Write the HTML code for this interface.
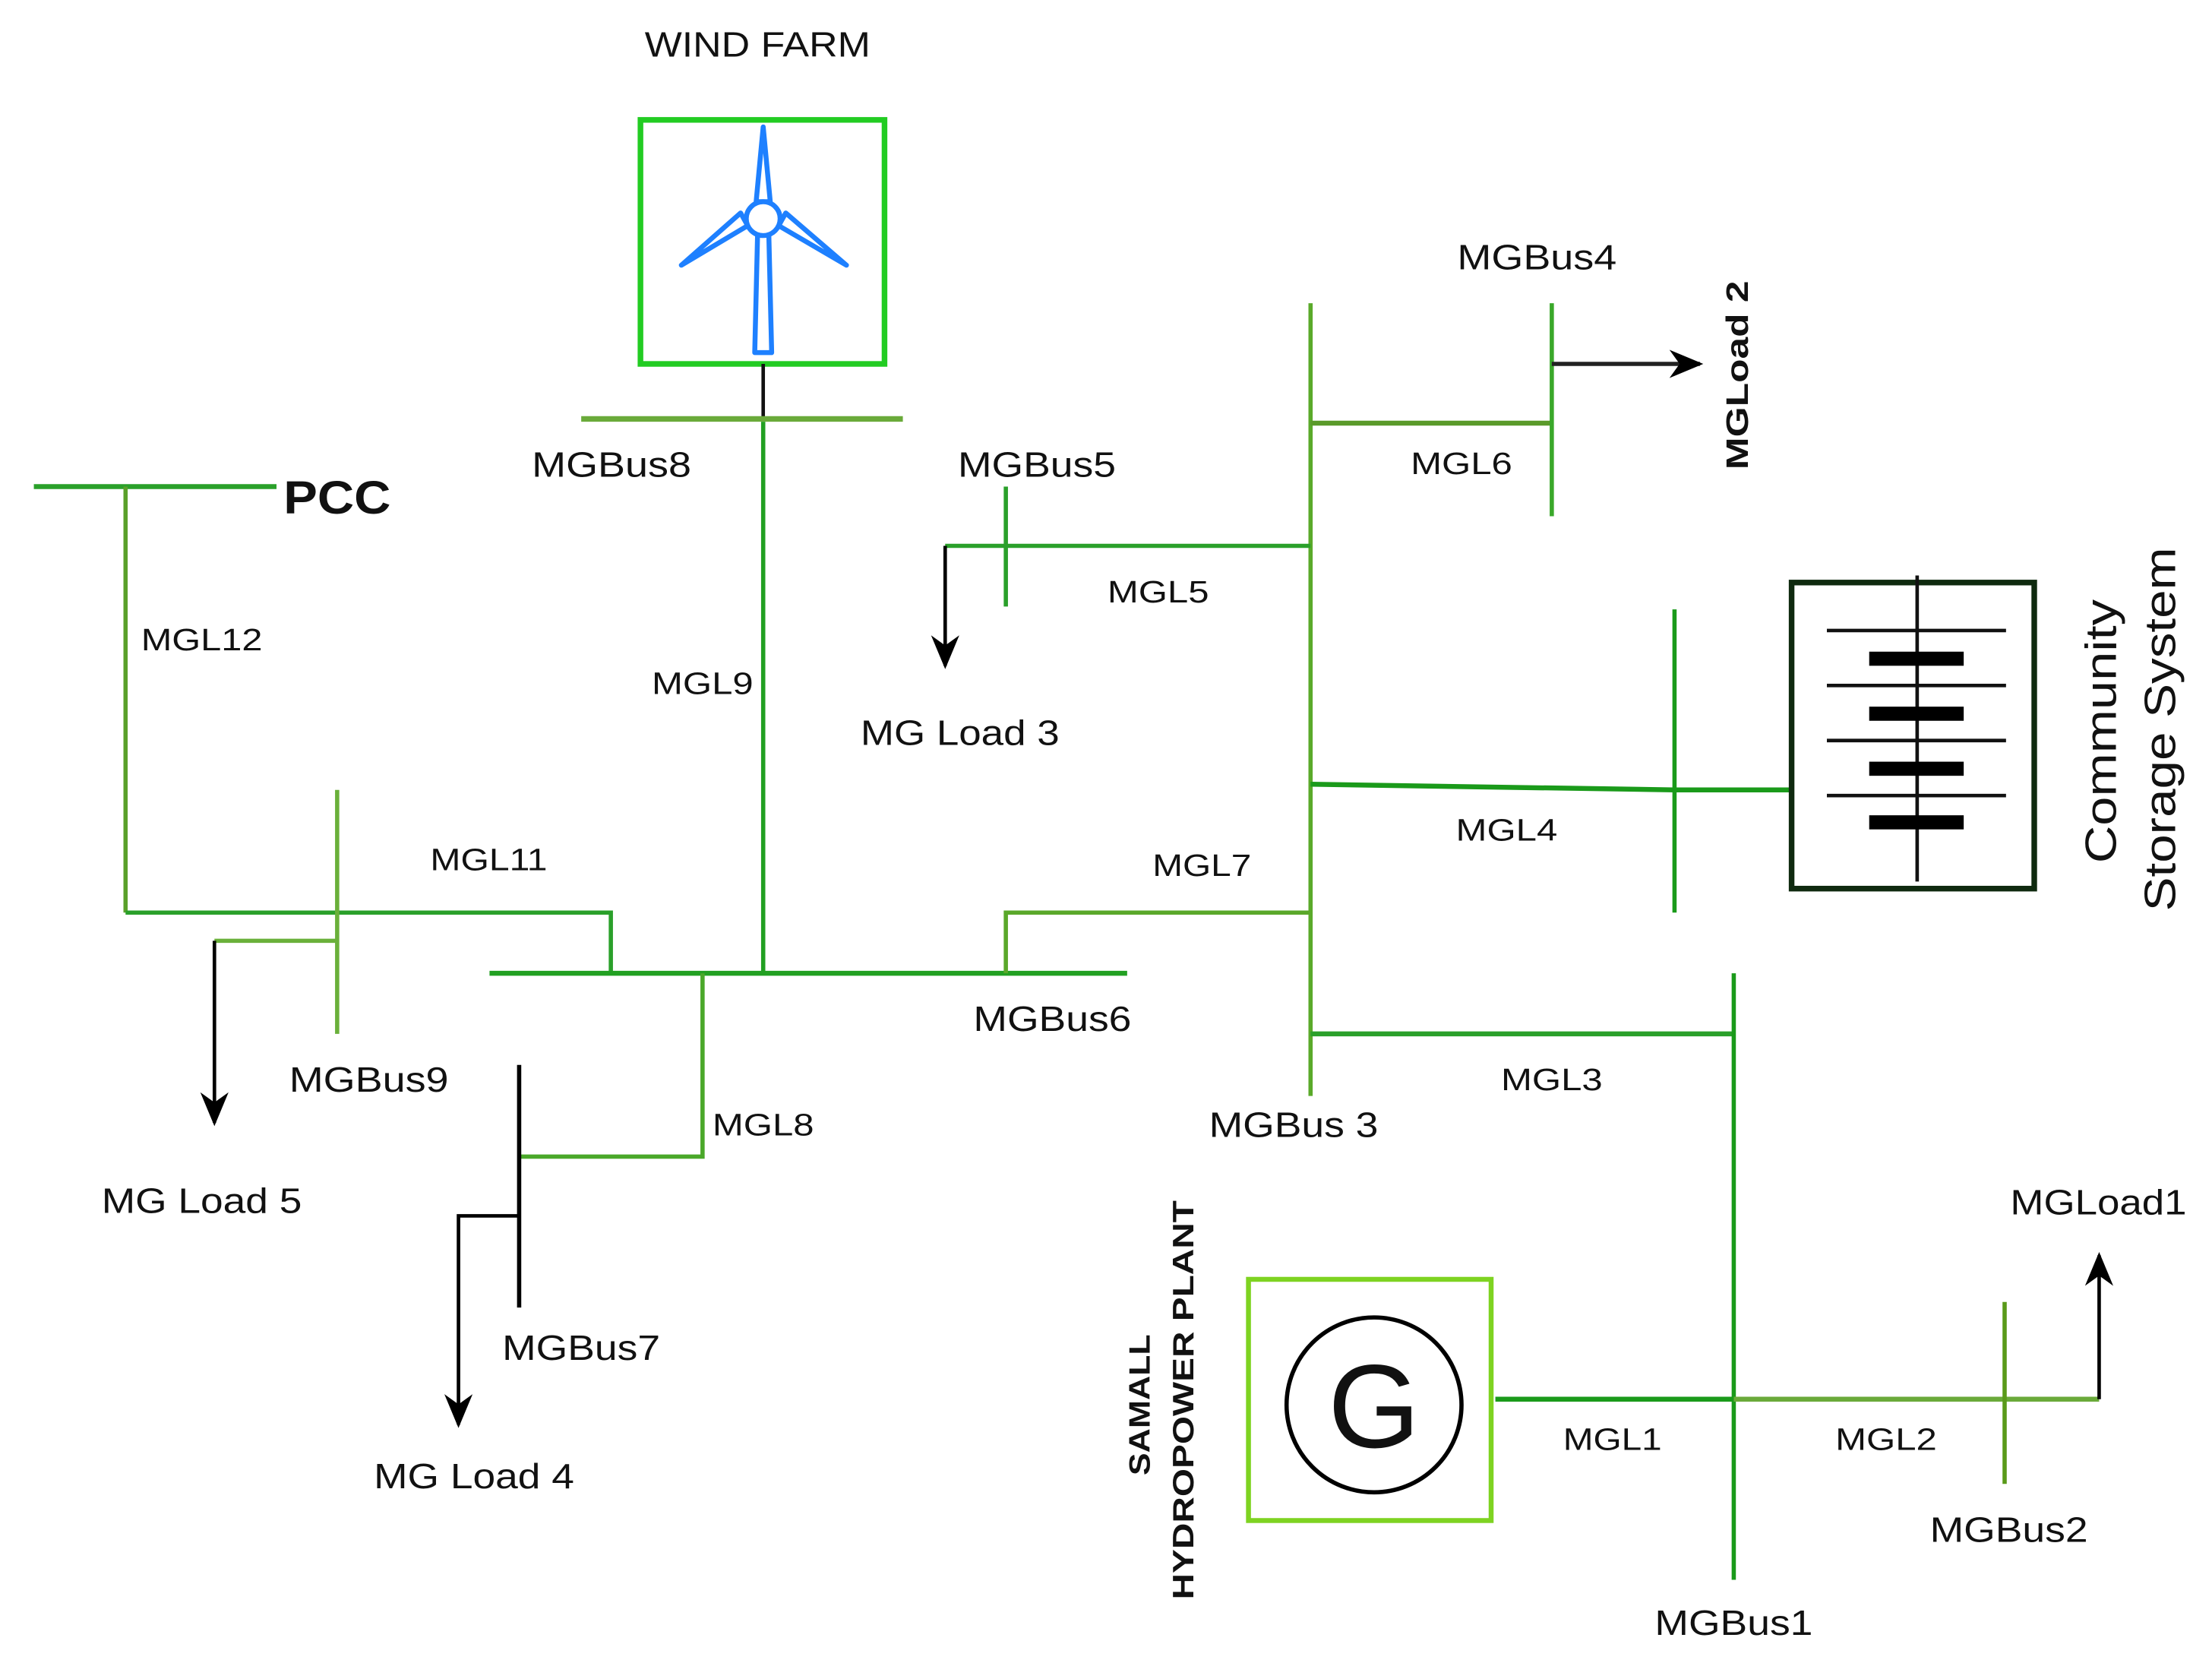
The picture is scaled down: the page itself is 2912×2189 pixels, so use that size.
<!DOCTYPE html>
<html><head><meta charset="utf-8"><style>
html,body{margin:0;padding:0;background:#fff;}
svg{display:block;}
text{font-family:"Liberation Sans",sans-serif;fill:#111;}
</style></head><body>
<svg width="2912" height="2189" viewBox="0 0 1568 1179" preserveAspectRatio="none" xmlns="http://www.w3.org/2000/svg">
<defs>
<marker id="ah" viewBox="0 0 10 10" refX="9" refY="5" markerWidth="24" markerHeight="20" orient="auto" markerUnits="userSpaceOnUse" preserveAspectRatio="none">
<path d="M0,0 L10,5 L0,10 L3,5 Z" fill="#000"/>
</marker>
</defs>
<g stroke-linecap="butt" fill="none">
<rect x="454" y="85" width="173" height="173" stroke="#22cc22" stroke-width="4"/>
<g stroke="#1e80ff" stroke-width="3.5" stroke-linejoin="round">
<path d="M541,90 L546,143 L536,143 Z"/>
<path d="M530,160 L483,188 L525,151 Z"/>
<path d="M552,160 L600,188 L557,151 Z"/>
<circle cx="541" cy="155" r="12" fill="#fff"/>
<path d="M537,167 L535,250 L547,250 L545,167"/>
</g>
<line x1="541" y1="258" x2="541" y2="298" stroke="#111" stroke-width="2.5"/>
<line x1="412" y1="297" x2="640" y2="297" stroke="#6aaa3a" stroke-width="4"/>
<line x1="541" y1="299" x2="541" y2="690" stroke="#22a022" stroke-width="3"/>
<line x1="24" y1="345" x2="196" y2="345" stroke="#2aa02a" stroke-width="3.5"/>
<line x1="89" y1="345" x2="89" y2="647" stroke="#5aa02a" stroke-width="3"/>
<path d="M89,647 L433,647 L433,690" stroke="#2aa02a" stroke-width="3"/>
<line x1="239" y1="560" x2="239" y2="733" stroke="#6ab03a" stroke-width="3"/>
<path d="M239,667 L152,667" stroke="#6ab03a" stroke-width="3"/>
<line x1="152" y1="667" x2="152" y2="796" stroke="#000" stroke-width="2.5" marker-end="url(#ah)"/>
<line x1="347" y1="690" x2="799" y2="690" stroke="#22a022" stroke-width="3.5"/>
<path d="M498,690 L498,820 L368,820" stroke="#4aa82a" stroke-width="3"/>
<line x1="368" y1="755" x2="368" y2="927" stroke="#000" stroke-width="3"/>
<path d="M368,862 L325,862 L325,1010" stroke="#000" stroke-width="2.5" marker-end="url(#ah)"/>
<path d="M713,690 L713,647 L929,647" stroke="#5aa82a" stroke-width="3"/>
<line x1="929" y1="215" x2="929" y2="777" stroke="#5aaa2a" stroke-width="3"/>
<line x1="929" y1="300" x2="1100" y2="300" stroke="#5a9a2a" stroke-width="3.5"/>
<line x1="1100" y1="215" x2="1100" y2="366" stroke="#3aa82a" stroke-width="3"/>
<line x1="1100" y1="258" x2="1205" y2="258" stroke="#222" stroke-width="3" marker-end="url(#ah)"/>
<path d="M929,387 L670,387" stroke="#2aa02a" stroke-width="3"/>
<line x1="713" y1="345" x2="713" y2="430" stroke="#2aa02a" stroke-width="3"/>
<line x1="670" y1="387" x2="670" y2="472" stroke="#000" stroke-width="2.5" marker-end="url(#ah)"/>
<path d="M929,556 L1187,560 L1270,560" stroke="#1a9a1a" stroke-width="3.5"/>
<line x1="1187" y1="432" x2="1187" y2="647" stroke="#1a9a1a" stroke-width="3"/>
<rect x="1270" y="413" width="172" height="217" stroke="#0f2a0f" stroke-width="4"/>
<line x1="1359" y1="408" x2="1359" y2="625" stroke="#111" stroke-width="2.5"/>
<g stroke="#111" stroke-width="2.5">
<line x1="1295" y1="447" x2="1422" y2="447"/>
<line x1="1295" y1="486" x2="1422" y2="486"/>
<line x1="1295" y1="525" x2="1422" y2="525"/>
<line x1="1295" y1="564" x2="1422" y2="564"/>
</g>
<g fill="#000" stroke="none">
<rect x="1325" y="462" width="67" height="10"/>
<rect x="1325" y="501" width="67" height="10"/>
<rect x="1325" y="540" width="67" height="10"/>
<rect x="1325" y="578" width="67" height="10"/>
</g>
<line x1="929" y1="733" x2="1229" y2="733" stroke="#2aa02a" stroke-width="3.5"/>
<line x1="1229" y1="690" x2="1229" y2="1120" stroke="#1a9a1a" stroke-width="3"/>
<rect x="885" y="907" width="172" height="171" stroke="#7ed321" stroke-width="3.5"/>
<ellipse cx="974" cy="996" rx="62" ry="62" stroke="#000" stroke-width="3"/>
<line x1="1060" y1="992" x2="1229" y2="992" stroke="#1a9a1a" stroke-width="3.5"/>
<line x1="1229" y1="992" x2="1488" y2="992" stroke="#6aaa3a" stroke-width="3.5"/>
<line x1="1421" y1="923" x2="1421" y2="1052" stroke="#5a9a1a" stroke-width="3"/>
<line x1="1488" y1="992" x2="1488" y2="890" stroke="#000" stroke-width="2.5" marker-end="url(#ah)"/>
</g>
<g font-size="25">
<text x="457" y="40" textLength="160" lengthAdjust="spacingAndGlyphs">WIND FARM</text>
<text x="377" y="338" textLength="113" lengthAdjust="spacingAndGlyphs">MGBus8</text>
<text x="679" y="338" textLength="112" lengthAdjust="spacingAndGlyphs">MGBus5</text>
<text x="1033" y="191" textLength="113" lengthAdjust="spacingAndGlyphs">MGBus4</text>
<text x="610" y="528" textLength="141" lengthAdjust="spacingAndGlyphs">MG Load 3</text>
<text x="690" y="731" textLength="112" lengthAdjust="spacingAndGlyphs">MGBus6</text>
<text x="205" y="774" textLength="113" lengthAdjust="spacingAndGlyphs">MGBus9</text>
<text x="72" y="860" textLength="142" lengthAdjust="spacingAndGlyphs">MG Load 5</text>
<text x="857" y="806" textLength="120" lengthAdjust="spacingAndGlyphs">MGBus 3</text>
<text x="356" y="964" textLength="112" lengthAdjust="spacingAndGlyphs">MGBus7</text>
<text x="265" y="1055" textLength="142" lengthAdjust="spacingAndGlyphs">MG Load 4</text>
<text x="1425" y="861" textLength="125" lengthAdjust="spacingAndGlyphs">MGLoad1</text>
<text x="1368" y="1093" textLength="112" lengthAdjust="spacingAndGlyphs">MGBus2</text>
<text x="1173" y="1159" textLength="112" lengthAdjust="spacingAndGlyphs">MGBus1</text>
</g>
<g font-size="22">
<text x="100" y="461" textLength="86" lengthAdjust="spacingAndGlyphs">MGL12</text>
<text x="462" y="492" textLength="72" lengthAdjust="spacingAndGlyphs">MGL9</text>
<text x="305" y="617" textLength="83" lengthAdjust="spacingAndGlyphs">MGL11</text>
<text x="505" y="805" textLength="72" lengthAdjust="spacingAndGlyphs">MGL8</text>
<text x="817" y="621" textLength="70" lengthAdjust="spacingAndGlyphs">MGL7</text>
<text x="1000" y="336" textLength="72" lengthAdjust="spacingAndGlyphs">MGL6</text>
<text x="785" y="427" textLength="72" lengthAdjust="spacingAndGlyphs">MGL5</text>
<text x="1032" y="596" textLength="72" lengthAdjust="spacingAndGlyphs">MGL4</text>
<text x="1064" y="773" textLength="72" lengthAdjust="spacingAndGlyphs">MGL3</text>
<text x="1108" y="1028" textLength="70" lengthAdjust="spacingAndGlyphs">MGL1</text>
<text x="1301" y="1028" textLength="72" lengthAdjust="spacingAndGlyphs">MGL2</text>
</g>
<text x="201" y="364" font-size="33" font-weight="bold" textLength="76" lengthAdjust="spacingAndGlyphs">PCC</text>
<text x="974" y="1026" font-size="84" text-anchor="middle">G</text>
<text transform="translate(1239,333) rotate(-90)" font-size="22" font-weight="bold" textLength="134" lengthAdjust="spacingAndGlyphs">MGLoad 2</text>
<text transform="translate(1500,612) rotate(-90)" font-size="31" textLength="187" lengthAdjust="spacingAndGlyphs">Community</text>
<text transform="translate(1542,646) rotate(-90)" font-size="31" textLength="258" lengthAdjust="spacingAndGlyphs">Storage System</text>
<text transform="translate(815,1046) rotate(-90)" font-size="21" font-weight="bold" textLength="100" lengthAdjust="spacingAndGlyphs">SAMALL</text>
<text transform="translate(846,1134) rotate(-90)" font-size="21" font-weight="bold" textLength="283" lengthAdjust="spacingAndGlyphs">HYDROPOWER PLANT</text>
</svg>
</body></html>
